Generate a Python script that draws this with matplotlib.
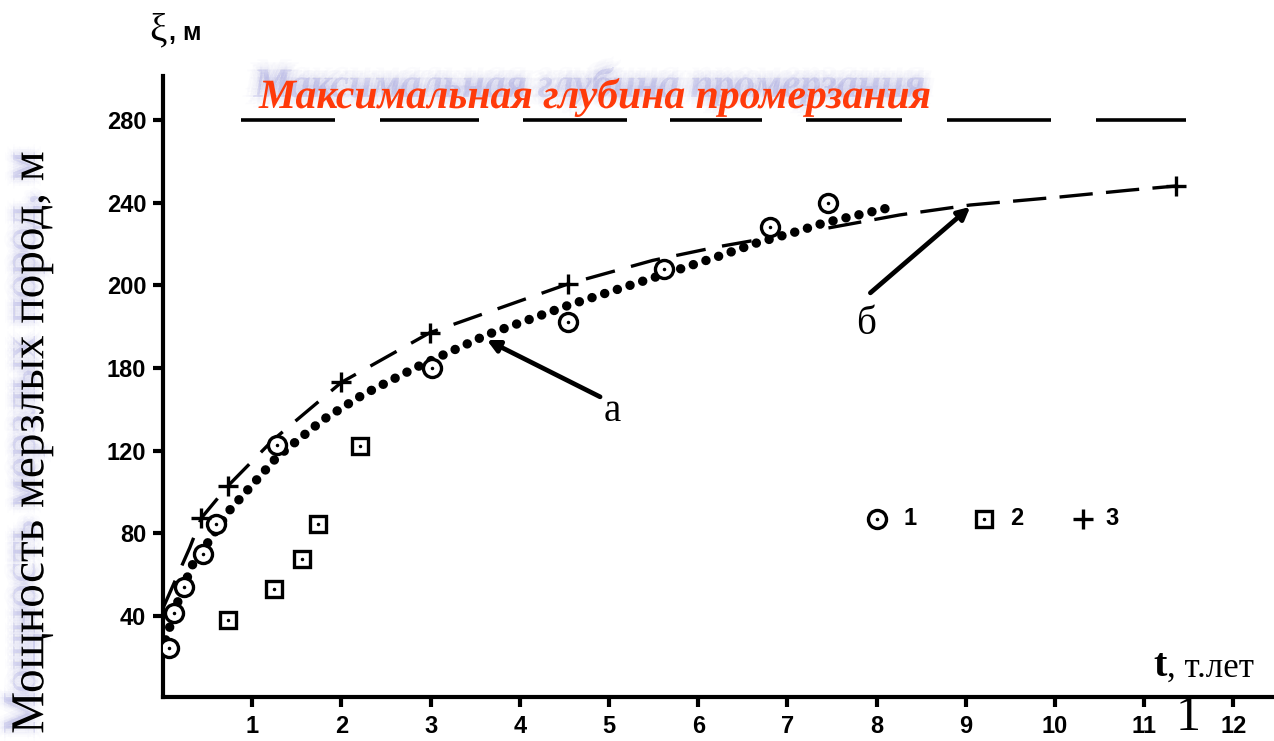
import matplotlib.pyplot as plt
import matplotlib.patheffects as pe
import numpy as np

plt.rcParams['font.family'] = ['Liberation Sans', 'DejaVu Sans']

# series 1 (circles with a dot)
t1 = [0.07, 0.12, 0.24, 0.45, 0.59, 1.28, 3.02, 4.54, 5.62, 6.80, 7.46]
h1 = [24.5, 41.5, 54, 70, 84.5, 122.7, 160, 182, 208, 228, 240]
# series 2 (squares with a dot)
t2 = [0.73, 1.24, 1.56, 1.74, 2.21]
h2 = [38, 53, 67.6, 84.5, 122]
# series 3 (plus)
t3 = [0.43, 0.73, 2.0, 2.99, 4.54, 11.36]
h3 = [87.4, 103, 153, 177, 200.6, 248]

# curve "a" (dotted)
ta = [0.03, 0.10, 0.19, 0.33, 0.50, 0.75, 1.28, 1.79, 2.24, 2.85, 3.33, 3.63,
      4.56, 5.49, 6.21, 6.66, 7.11, 7.40, 8.23]
ha = [28.4, 38, 50, 64.7, 75.3, 91.3, 117, 134.8, 147, 160.5, 170, 176,
      190.5, 203.5, 213.7, 220.5, 226, 230, 238.4]
# dashed curve, first piece
tb1 = [0.0, 0.30, 0.43, 0.73, 1.23, 2.0, 2.99, 4.54, 5.49, 6.21, 6.67]
hb1 = [43.8, 73, 87.4, 103, 125, 153, 177, 200.6, 212, 218.5, 222]
# dashed curve "б", second piece
tb2 = [7.46, 8.26, 9.05, 10.06, 10.84, 11.36]
hb2 = [227.7, 234, 238.8, 242.7, 246, 248]

# maximum freezing depth level, drawn as separate dashes
max_depth = 280
level_dashes = [(0.88, 1.93), (2.43, 3.54), (4.04, 5.20), (5.68, 6.72),
                (7.21, 8.29), (8.79, 9.96), (10.46, 11.47)]

yticks = [40, 80, 120, 160, 200, 240, 280]
ytick_labels = ['40', '80', '120', '180', '200', '240', '280']
xticks = list(range(1, 13))

fig = plt.figure(figsize=(12.74, 7.41), dpi=100)
ax = fig.add_axes([163/1274, 44/741, 1 - 163/1274, 621/741])
ax.set_xlim(0, 12.455)
ax.set_ylim(0.8, 301.2)

for s in ['top', 'right']:
    ax.spines[s].set_visible(False)
for s in ['left', 'bottom']:
    ax.spines[s].set_linewidth(3)

ax.set_yticks(yticks)
ax.set_yticklabels(ytick_labels)
ax.set_xticks(xticks)
ax.tick_params(axis='both', width=3, length=7, labelsize=17, pad=5)
ax.tick_params(axis='x', pad=6)
for lab in ax.get_xticklabels() + ax.get_yticklabels():
    lab.set_fontweight('bold')

# curves
ax.plot(ta, ha, color='black', lw=6.8, linestyle=(0, (0.01, 1.4)),
        dash_capstyle='round', zorder=3)
ax.plot(tb1, hb1, color='black', lw=2.4, linestyle=(0, (9, 5)), zorder=3)
ax.plot(tb2, hb2, color='black', lw=2.4, linestyle=(0, (10, 4)), zorder=3)

for a, b in level_dashes:
    ax.plot([a, b], [max_depth, max_depth], color='black', lw=2.6,
            solid_capstyle='butt')

# markers
ax.plot(t1, h1, 'o', ms=13, mfc='white', mec='black', mew=2.4, zorder=4)
ax.plot(t1, h1, '.', ms=3, color='black', zorder=5)
ax.plot(t2, h2, 's', ms=12, mfc='white', mec='black', mew=2.4, zorder=4)
ax.plot(t2, h2, '.', ms=3, color='black', zorder=5)
ax.plot(t3, h3, '+', ms=15, mec='black', mew=2.4, zorder=4)

# legend
leg_h = 87
ax.plot([8.0], [leg_h], 'o', ms=13, mfc='white', mec='black', mew=2.4)
ax.plot([8.0], [leg_h], '.', ms=3, color='black')
ax.text(8.3, leg_h, '1', fontsize=17, fontweight='bold', va='center')
ax.plot([9.2], [leg_h], 's', ms=12, mfc='white', mec='black', mew=2.4)
ax.plot([9.2], [leg_h], '.', ms=3, color='black')
ax.text(9.5, leg_h, '2', fontsize=17, fontweight='bold', va='center')
ax.plot([10.31], [leg_h], '+', ms=15, mec='black', mew=2.4)
ax.text(10.57, leg_h, '3', fontsize=17, fontweight='bold', va='center')

# arrows and labels
arrow = dict(arrowstyle='-|>', lw=3.4, color='black', mutation_scale=18,
             shrinkA=0, shrinkB=0)
ax.annotate('', xy=(3.63, 173.5), xytext=(4.90, 146), arrowprops=arrow)
ax.annotate('', xy=(9.05, 237.9), xytext=(7.93, 196.3), arrowprops=arrow)
ax.text(5.04, 139, 'а', fontsize=28, family='Liberation Serif',
        ha='center', va='center')
ax.text(7.88, 181, 'б', fontsize=28, family='Liberation Serif',
        ha='center', va='center')


def blur_shadow(color, dx, dy, n=8, spread=2.5, alpha=0.03):
    fx = []
    for i in range(n):
        ang = 2 * np.pi * i / n
        for r in (0, spread, 2 * spread, 3 * spread):
            fx.append(pe.SimplePatchShadow(offset=(dx + r * np.cos(ang), dy + r * np.sin(ang)),
                                           shadow_rgbFace=color, alpha=alpha))
    fx.append(pe.Normal())
    return fx


# title
fig.text(595/1274, 1 - 97/741, 'Максимальная глубина промерзания',
         fontsize=30, fontweight='bold', fontstyle='italic',
         family='Liberation Serif', color='#ff3a0a', ha='center', va='center',
         path_effects=blur_shadow('#6060c8', -4, 8, spread=2.5, alpha=0.018))

# y label
fig.text(32/1274, 1 - 442/741, 'Мощность мерзлых пород, м', rotation=90,
         fontsize=34, family='Liberation Serif', ha='center', va='center',
         path_effects=blur_shadow('#7070d0', -6, 0, spread=2, alpha=0.018))

# top axis name
fig.text(158/1274, 1 - 31/741, 'ξ', fontsize=28, family='Liberation Serif',
         ha='center', va='center')
fig.text(169/1274, 1 - 33/741, ', м', fontsize=18, fontweight='bold',
         ha='left', va='center')

# x axis name
fig.text(1160/1274, 1 - 666/741, 't', fontsize=29, fontweight='bold',
         family='Liberation Serif', ha='center', va='center')
fig.text(1167/1274, 1 - 668/741, ', т.лет', fontsize=25,
         family='Liberation Serif', ha='left', va='center')
fig.text(1188/1274, 1 - 718/741, '1', fontsize=36,
         family='Liberation Serif', ha='center', va='center')

fig.savefig('out.png', dpi=100)
